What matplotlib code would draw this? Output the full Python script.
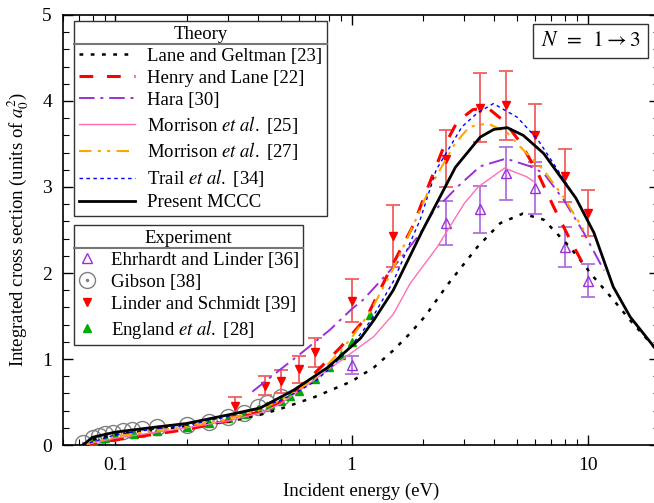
import matplotlib
matplotlib.use("Agg")
import matplotlib.pyplot as plt
from matplotlib.lines import Line2D
from matplotlib.transforms import IdentityTransform
from matplotlib.ticker import MultipleLocator, FixedLocator, NullFormatter, LogLocator

plt.rcParams['font.family'] = ['Liberation Serif', 'DejaVu Serif']
plt.rcParams['mathtext.fontset'] = 'stix'

# ---- theory curves (energy in eV, cross section in a0^2) ----
lane_E = [0.073, 0.08, 0.1, 0.15, 0.2, 0.3, 0.42, 0.5, 0.7, 1.0, 1.24, 1.5, 1.77, 2.05, 2.54, 3.4, 4.26, 5.3, 6.5, 8.4, 10.6, 12.8, 15.1, 19.2]
lane_s = [0.0, 0.06, 0.12, 0.18, 0.22, 0.27, 0.36, 0.42, 0.56, 0.74, 0.90, 1.10, 1.30, 1.50, 1.86, 2.30, 2.58, 2.69, 2.62, 2.30, 1.95, 1.69, 1.45, 1.13]

henry_E = [0.073, 0.1, 0.15, 0.2, 0.3, 0.4, 0.5, 0.62, 0.75, 0.9, 1.16, 1.46, 1.82, 2.14, 2.44, 2.8, 3.26, 3.77, 4.44, 5.2, 6.14, 7.16, 8.43, 10.0]
henry_s = [0.0, 0.06, 0.13, 0.18, 0.28, 0.38, 0.50, 0.70, 0.92, 1.14, 1.49, 2.05, 2.55, 3.05, 3.45, 3.76, 3.90, 3.92, 3.76, 3.51, 3.16, 2.77, 2.38, 2.00]

hara_E = [0.38, 0.5, 0.6, 0.81, 1.0, 1.12, 1.56, 1.95, 2.2, 2.8, 3.5, 4.5, 5.7, 6.5, 7.9, 9.6, 11.7]
hara_s = [0.62, 0.88, 1.05, 1.34, 1.58, 1.69, 2.12, 2.46, 2.70, 3.00, 3.24, 3.33, 3.24, 3.16, 2.85, 2.47, 2.03]

morr25_E = [0.073, 0.1, 0.15, 0.2, 0.3, 0.42, 0.5, 0.65, 0.81, 0.93, 1.24, 1.5, 1.77, 2.3, 3.0, 3.43, 4.44, 5.5, 6.0]
morr25_s = [0.0, 0.08, 0.15, 0.20, 0.28, 0.38, 0.48, 0.70, 0.89, 1.01, 1.26, 1.52, 1.88, 2.30, 2.81, 3.00, 3.22, 3.12, 3.05]

morr27_E = [0.073, 0.1, 0.15, 0.2, 0.3, 0.4, 0.5, 0.6, 0.7, 0.8, 0.9, 1.0, 1.2, 1.5, 1.82, 2.15, 2.73, 3.15, 3.77, 4.56, 5.33, 6.48, 7.9, 9.6, 10.0]
morr27_s = [0.0, 0.10, 0.17, 0.22, 0.30, 0.40, 0.52, 0.65, 0.78, 0.95, 1.10, 1.25, 1.55, 2.05, 2.55, 3.00, 3.50, 3.70, 3.74, 3.63, 3.43, 3.20, 2.88, 2.50, 2.42]

trail_E = [0.073, 0.1, 0.15, 0.2, 0.3, 0.4, 0.5, 0.6, 0.7, 0.8, 0.9, 1.0, 1.2, 1.5, 1.95, 2.28, 2.93, 3.4, 3.98, 5.03, 6.14, 7.44, 9.0, 10.0]
trail_s = [0.0, 0.12, 0.19, 0.23, 0.33, 0.42, 0.52, 0.63, 0.74, 0.88, 1.02, 1.16, 1.44, 1.90, 2.62, 3.20, 3.70, 3.86, 3.97, 3.81, 3.55, 3.20, 2.85, 2.62]

mccc_E = [0.073, 0.08, 0.1, 0.15, 0.2, 0.3, 0.41, 0.57, 0.79, 1.09, 1.24, 1.5, 2.0, 2.75, 3.5, 4.0, 4.56, 5.33, 6.5, 8.9, 10.6, 12.8, 15.1, 19.2, 20.0]
mccc_s = [0.0, 0.09, 0.15, 0.21, 0.25, 0.35, 0.43, 0.64, 0.90, 1.24, 1.45, 1.80, 2.50, 3.23, 3.58, 3.67, 3.69, 3.60, 3.39, 2.87, 2.47, 1.84, 1.49, 1.13, 1.07]

# ---- experiments ----
ehr_E = [1.0, 2.5, 3.5, 4.5, 6.0, 8.0, 10.0]
ehr_s = [0.93, 2.58, 2.74, 3.16, 2.99, 2.30, 1.91]
ehr_err = [0.10, 0.26, 0.27, 0.31, 0.30, 0.23, 0.19]

gib_E = [0.073, 0.080, 0.085, 0.09, 0.098, 0.108, 0.118, 0.13, 0.15, 0.2, 0.25, 0.3, 0.35, 0.4, 0.44, 0.5]
gib_s = [0.02, 0.08, 0.11, 0.13, 0.14, 0.16, 0.17, 0.19, 0.21, 0.23, 0.27, 0.32, 0.37, 0.44, 0.49, 0.56]

lin_E = [0.32, 0.43, 0.5, 0.6, 0.7, 1.0, 1.5, 2.5, 3.5, 4.5, 6.0, 8.0, 10.0]
lin_s = [0.45, 0.69, 0.74, 0.88, 1.08, 1.68, 2.43, 3.33, 3.92, 3.95, 3.60, 3.13, 2.70]
lin_err = [0.11, 0.11, 0.13, 0.16, 0.17, 0.25, 0.36, 0.33, 0.40, 0.40, 0.36, 0.31, 0.27]

eng_E = [0.08, 0.09, 0.1, 0.12, 0.15, 0.2, 0.25, 0.3, 0.35, 0.4, 0.45, 0.5, 0.55, 0.6, 0.7, 0.8, 0.9, 1.0, 1.2]
eng_s = [0.05, 0.08, 0.10, 0.13, 0.16, 0.21, 0.26, 0.31, 0.36, 0.42, 0.47, 0.51, 0.57, 0.63, 0.77, 0.91, 1.05, 1.20, 1.51]

W, H = 654, 503
fig = plt.figure(figsize=(W / 100, H / 100), dpi=100)
ax = fig.add_axes([63 / W, (H - 445) / H, (659 - 63) / W, 430 / H])

FS = 13.5
PURPLE = '#9b30d9'
PINK = '#ff6fb5'
ORANGE = '#ffa500'

# experiments first so theory lines sit on top
gib_pts, = ax.plot(gib_E, gib_s, 'o', ms=11.5, mfc='none', mec='#808080', mew=1.0, zorder=2)
gib_dot, = ax.plot(gib_E, gib_s, 'o', ms=1.5, mfc='#808080', mec='#808080', zorder=2)
ax.errorbar(ehr_E, ehr_s, yerr=ehr_err, fmt='none', ecolor='#b070e0', elinewidth=1.3, capsize=5, capthick=1.3, zorder=2)
ehr_pts, = ax.plot(ehr_E, ehr_s, '^', ms=7, mfc='none', mec=PURPLE, mew=1.0, zorder=3)
ax.errorbar(lin_E, lin_s, yerr=lin_err, fmt='none', ecolor='#f06060', elinewidth=1.3, capsize=5, capthick=1.3, zorder=2)
lin_pts, = ax.plot(lin_E, lin_s, 'v', ms=6, color='red', zorder=3)
eng_pts, = ax.plot(eng_E, eng_s, '^', ms=6, color='#00aa00', zorder=3)

l1, = ax.plot(lane_E, lane_s, color='black', lw=1.8, dashes=(1.5, 3.0), zorder=4)
l2, = ax.plot(henry_E, henry_s, color='red', lw=2.2, dashes=(4.5, 4.5), zorder=4)
l3, = ax.plot(hara_E, hara_s, color=PURPLE, lw=1.4, dashes=(8, 3, 1.5, 3), zorder=4)
l4, = ax.plot(morr25_E, morr25_s, color=PINK, lw=1.0, zorder=4)
l5, = ax.plot(morr27_E, morr27_s, color=ORANGE, lw=1.5, dashes=(6, 3, 1.5, 3, 1.5, 3), zorder=4)
l6, = ax.plot(trail_E, trail_s, color='blue', lw=1.0, dashes=(2.5, 2.5), zorder=4)
l7, = ax.plot(mccc_E, mccc_s, color='black', lw=2.0, zorder=5)

ax.set_xscale('log')
ax.set_xlim(0.06, 20)
ax.set_ylim(0, 5)
ax.xaxis.set_major_locator(FixedLocator([0.1, 1, 10]))
ax.set_xticklabels(['0.1', '1', '10'])
ax.xaxis.set_minor_locator(LogLocator(base=10, subs=range(2, 10)))
ax.xaxis.set_minor_formatter(NullFormatter())
ax.yaxis.set_major_locator(MultipleLocator(1))
ax.yaxis.set_minor_locator(MultipleLocator(0.2))
ax.tick_params(which='both', direction='in', top=True, right=True, labelsize=FS + 0.5)
ax.tick_params(which='major', length=7, width=1)
ax.tick_params(which='minor', length=4, width=0.8)
ax.tick_params(axis='x', pad=9)
ax.tick_params(axis='y', pad=8)
for s in ax.spines.values():
    s.set_linewidth(1.2)

ax.set_xlabel('Incident energy (eV)', fontsize=FS, labelpad=6)
ax.set_ylabel('Integrated cross section (units of $a_0^2$)', fontsize=FS, labelpad=8)

fig.text(590.5 / W, 1 - 41 / H, r'$N\ \,=\ \,1 \rightarrow 3$', fontsize=FS + 2,
         ha='center', va='center',
         bbox=dict(boxstyle='square,pad=0.35', fc='white', ec='#333333', lw=1.0))

theory = ax.legend([l1, l2, l3, l4, l5, l6, l7],
                   ['Lane and Geltman [23]', 'Henry and Lane [22]', 'Hara [30]',
                    r'Morrison $\mathit{et\ al.}$ [25]', r'Morrison $\mathit{et\ al.}$ [27]',
                    r'Trail $\mathit{et\ al.}$ [34]', 'Present MCCC'],
                   title='Theory', title_fontsize=FS, fontsize=FS,
                   loc='upper left', bbox_to_anchor=(74 / W, 1 - 21 / H),
                   bbox_transform=fig.transFigure, borderaxespad=0,
                   handlelength=3.0, handletextpad=0.65, labelspacing=0.26,
                   borderpad=0.25, fancybox=False, framealpha=1, edgecolor='#333333')
theory.get_frame().set_linewidth(1.0)
ax.add_artist(theory)

experiment = ax.legend([ehr_pts, (gib_pts, gib_dot), lin_pts, eng_pts],
                       ['Ehrhardt and Linder [36]', 'Gibson [38]', 'Linder and Schmidt [39]',
                        r'England $\mathit{et\ al.}$ [28]'],
                       title='Experiment', title_fontsize=FS, fontsize=FS,
                       loc='upper left', bbox_to_anchor=(74 / W, 1 - 225 / H),
                       bbox_transform=fig.transFigure, borderaxespad=0,
                       handlelength=0.9, handletextpad=0.8, labelspacing=0.26,
                       borderpad=0.25, fancybox=False, framealpha=1, edgecolor='#333333')
experiment.get_frame().set_linewidth(1.0)

# rule under each legend title
fig.canvas.draw()
for leg in (theory, experiment):
    fb = leg.get_frame().get_window_extent()
    tb = leg.get_title().get_window_extent()
    y = tb.y0 - 1
    fig.add_artist(Line2D([fb.x0, fb.x1], [y, y], transform=IdentityTransform(),
                          color='#777777', lw=1.5, zorder=10))

fig.savefig('out.png', dpi=100)
